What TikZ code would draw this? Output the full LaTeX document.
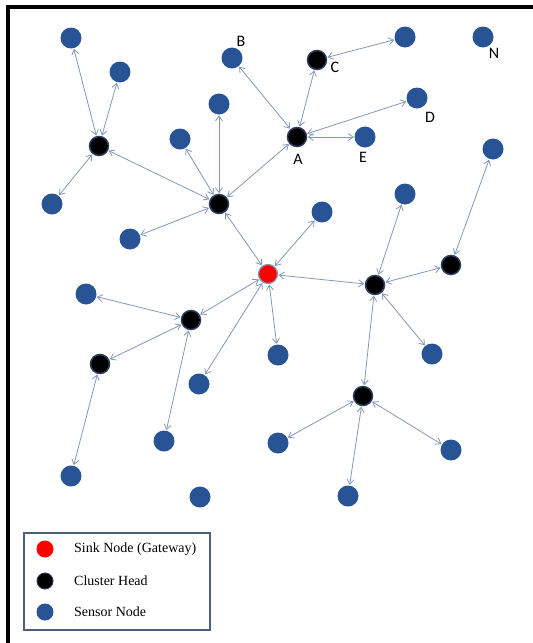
\documentclass[tikz,border=0pt]{standalone}
\usepackage{fontspec}
\setmainfont{Liberation Serif}
\newfontfamily\lblfont{Carlito}
\usetikzlibrary{arrows.meta}
\definecolor{sensorblue}{RGB}{40,84,150}
\definecolor{edgecol}{RGB}{130,152,185}
\definecolor{chring}{RGB}{45,60,95}
\definecolor{legborder}{RGB}{80,95,120}
\begin{document}
\begin{tikzpicture}[x=1pt,y=-1pt,
  sensor/.style={circle,fill=sensorblue,minimum size=21pt,inner sep=0pt},
  chead/.style={circle,fill=black,draw=chring,line width=1.5pt,minimum size=19pt,inner sep=0pt},
  sinknode/.style={circle,fill=red,draw=edgecol,line width=1.2pt,minimum size=19pt,inner sep=0pt},
  link/.style={draw=edgecol,line width=0.8pt,{Straight Barb[length=5pt,width=7pt]}-{Straight Barb[length=5pt,width=7pt]},shorten <=0.5pt,shorten >=0.5pt},
  lbl/.style={font=\lblfont\fontsize{16}{18}\selectfont,inner sep=0pt},
  legtxt/.style={font=\fontsize{14}{16}\selectfont,anchor=west,inner sep=0pt},
  legdot/.style={circle,minimum size=17pt,inner sep=0pt}]
\useasboundingbox (0,0) rectangle (533,643);
% frame
\draw[line width=4pt,line join=miter] (8,645) -- (8,7) -- (535,7);

% cluster heads and sink
\node[chead] (ch1) at (99,146) {};
\node[chead] (ch2) at (219,204) {};
\node[chead] (A) at (297,137) {};
\node[chead] (C) at (317,60) {};
\node[sinknode] (sink) at (268,274) {};
\node[chead] (ch3) at (375,285) {};
\node[chead] (ch4) at (451,265) {};
\node[chead] (ch5) at (191,320) {};
\node[chead] (ch6) at (100,364) {};
\node[chead] (ch7) at (363,396) {};

% sensors
\node[sensor] (s1) at (71,38) {};
\node[sensor] (s2) at (120,72) {};
\node[sensor] (B) at (232,58) {};
\node[sensor] (s3) at (405,37) {};
\node[sensor] (N) at (483,37) {};
\node[sensor] (D) at (417,98) {};
\node[sensor] (E) at (365,137) {};
\node[sensor] (s4) at (219,104) {};
\node[sensor] (s5) at (180,139) {};
\node[sensor] (s6) at (52,204) {};
\node[sensor] (s7) at (130,239) {};
\node[sensor] (s8) at (322,212) {};
\node[sensor] (s9) at (405,194) {};
\node[sensor] (s10) at (493,149) {};
\node[sensor] (s11) at (86,294) {};
\node[sensor] (s12) at (278,355) {};
\node[sensor] (s13) at (432,354) {};
\node[sensor] (s14) at (199,384) {};
\node[sensor] (s15) at (164,441) {};
\node[sensor] (s16) at (278,443) {};
\node[sensor] (s17) at (451,450) {};
\node[sensor] (s18) at (71,476) {};
\node[sensor] (s19) at (200,497) {};
\node[sensor] (s20) at (348,496) {};

% labels
\node[lbl] (lB) at (241,41) {B};
\node[lbl] (lC) at (335,67) {C};
\node[lbl] (lN) at (494,53) {N};
\node[lbl] (lD) at (430,117) {D};
\node[lbl] (lE) at (363,157) {E};
\node[lbl] (lA) at (298,159) {A};

% links
\foreach \a/\b in {ch1/s1,ch1/s2,ch1/s6,ch1/ch2,ch2/s4,ch2/s5,ch2/s7,ch2/A,ch2/sink,
  A/B,A/C,A/D,A/E,C/s3,sink/s8,sink/ch3,sink/ch5,sink/s12,sink/s14,
  ch3/s9,ch3/ch4,ch4/s10,ch3/s13,ch3/ch7,ch5/s11,ch5/ch6,ch5/s15,ch6/s18,
  ch7/s16,ch7/s20,ch7/s17}
  \draw[link] (\a) -- (\b);

% legend
\draw[draw=legborder,line width=1.2pt] (24,533) rectangle (210,630);
\node[legdot,fill=red] (k1) at (45,549) {};
\node[legdot,fill=black,draw=chring,line width=1pt,minimum size=16pt] (k2) at (45,581) {};
\node[legdot,fill=sensorblue] (k3) at (45,612) {};
\node[legtxt] (t1) at (74,549) {Sink Node (Gateway)};
\node[legtxt] (t2) at (74,581) {Cluster Head};
\node[legtxt] (t3) at (74,612) {Sensor Node};
\end{tikzpicture}
\end{document}
